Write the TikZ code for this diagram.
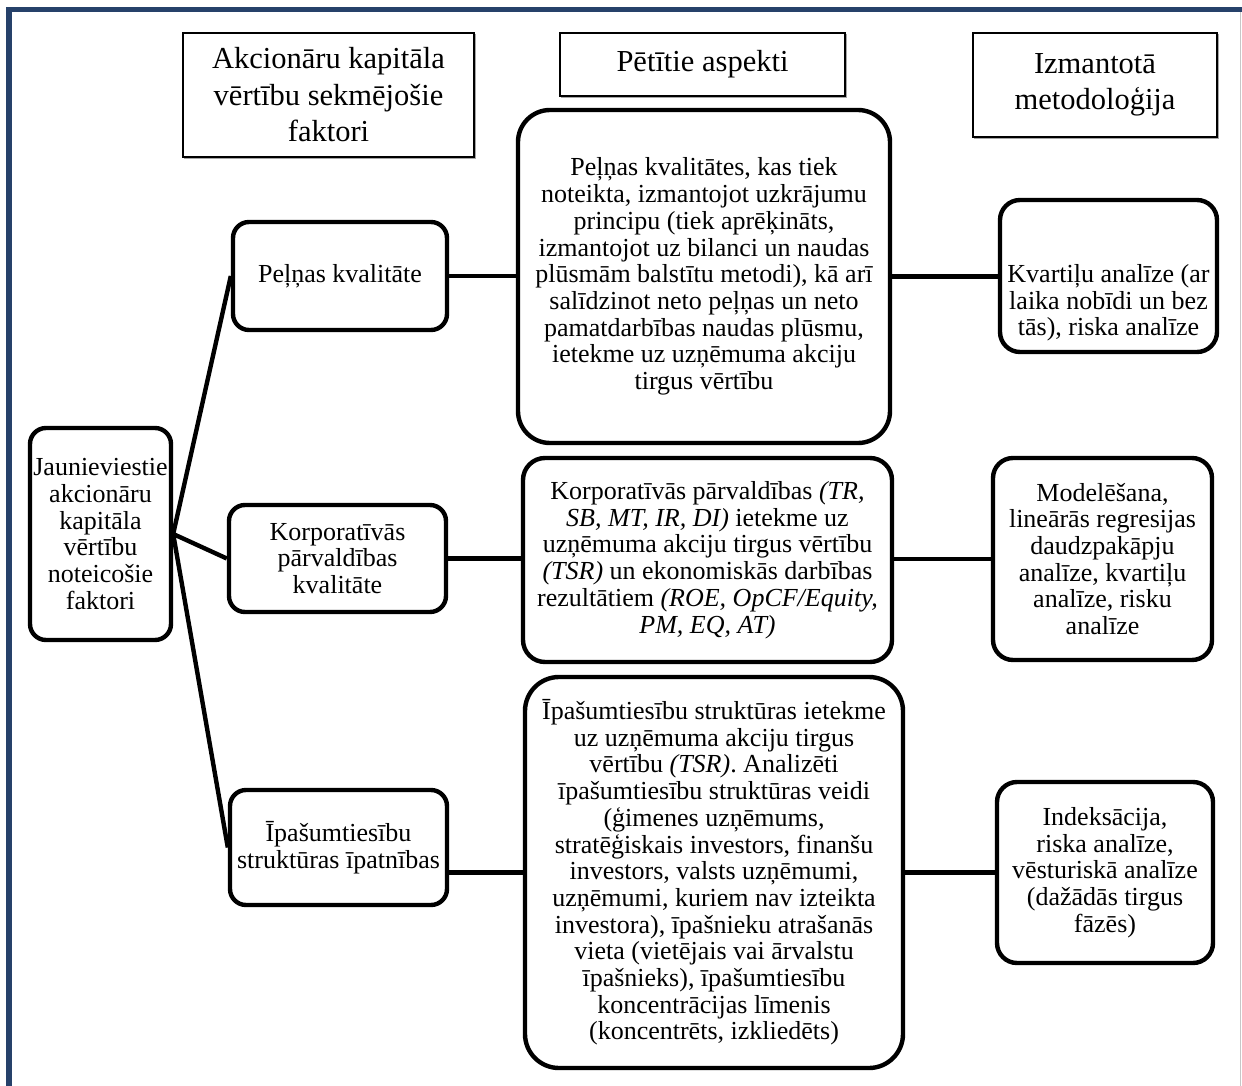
\documentclass[tikz,border=0pt]{standalone}
\usepackage{fontspec}
\setmainfont{Liberation Serif}
\definecolor{framecol}{HTML}{26416A}
\newcommand{\bodysize}{\fontsize{26}{26.7}\selectfont}
\newcommand{\headsize}{\fontsize{30.5}{36.5}\selectfont}
\tikzset{
  headbox/.style={draw=black, line width=1.3pt, fill=white, inner sep=0pt, align=center,
    font=\headsize,
    preaction={draw=black!35, line width=1.3pt, transform canvas={shift={(1.8pt,-1.8pt)}}}},
  rbox/.style={draw=black, line width=4.4pt, fill=white, inner sep=0pt, align=center,
    font=\bodysize, rounded corners=#1},
  rbox/.default=16pt,
  plain/.style={inner sep=0pt, align=center, font=\bodysize},
  conn/.style={draw=black, line width=4.4pt}
}
\begin{document}
\begin{tikzpicture}[x=1pt, y=-1pt]
\useasboundingbox (0,0) rectangle (1242,1086);
\fill[white] (0,0) rectangle (1242,1086);

% page frame
\fill[framecol] (6,7) rectangle (1242,12.5);
\fill[framecol] (6,7) rectangle (11.5,1086);
\draw[black!22, line width=1.2pt] (1240.5,12.5) -- (1240.5,1086);

% column headings
\node[headbox, minimum width=291, minimum height=124] (h1) at (328.5,95)
  {Akcionāru kapitāla\\vērtību sekmējošie\\faktori};
\node[headbox, minimum width=285, minimum height=63] (h2) at (702.5,64.5)
  {Pētītie aspekti};
\node[headbox, minimum width=244, minimum height=104] (h3) at (1095,85)
  {Izmantotā\\metodoloģija};

% root
\node[rbox=16pt, minimum width=141, minimum height=212] (root) at (100.5,534)
  {Jaunieviestie\\akcionāru\\kapitāla\\vērtību\\noteicošie\\faktori};

% factors
\node[rbox=16pt, minimum width=214, minimum height=108] (pel) at (340,276)
  {Peļņas kvalitāte};
\node[rbox=16pt, minimum width=217, minimum height=107] (korp) at (337.5,558.5)
  {Korporatīvās\\pārvaldības\\kvalitāte};
\node[rbox=16pt, minimum width=217, minimum height=115] (ip) at (338.5,847.5)
  {Īpašumtiesību\\struktūras īpatnības};

% studied aspects
\node[rbox=32pt, minimum width=372, minimum height=333] (big1) at (704,276.5)
  {Peļņas kvalitātes, kas tiek\\noteikta, izmantojot uzkrājumu\\principu (tiek aprēķināts,\\izmantojot uz bilanci un naudas\\plūsmām balstītu metodi), kā arī\\salīdzinot neto peļņas un neto\\pamatdarbības naudas plūsmu,\\ietekme uz uzņēmuma akciju\\tirgus vērtību};
\node[rbox=22pt, minimum width=369, minimum height=204] (big2) at (707.5,560)
  {Korporatīvās pārvaldības \textit{(TR,}\\\textit{SB, MT, IR, DI)} ietekme uz\\uzņēmuma akciju tirgus vērtību\\\textit{(TSR)} un ekonomiskās darbības\\rezultātiem \textit{(ROE, OpCF/Equity,}\\\textit{PM, EQ, AT)}};
\node[rbox=34pt, minimum width=378, minimum height=391] (big3) at (714,872.5)
  {Īpašumtiesību struktūras ietekme\\uz uzņēmuma akciju tirgus\\vērtību \textit{(TSR)}. Analizēti\\īpašumtiesību struktūras veidi\\(ģimenes uzņēmums,\\stratēģiskais investors, finanšu\\investors, valsts uzņēmumi,\\uzņēmumi, kuriem nav izteikta\\investora), īpašnieku atrašanās\\vieta (vietējais vai ārvalstu\\īpašnieks), īpašumtiesību\\koncentrācijas līmenis\\(koncentrēts, izkliedēts)};

% methodology
\node[rbox=20pt, minimum width=217, minimum height=152] (kv) at (1108.5,276) {};
\node[plain] (kvtext) at (1108.5,303)
  {Kvartiļu analīze (ar\\laika nobīdi un bez\\tās), riska analīze};
\node[rbox=20pt, minimum width=219, minimum height=202] (mod) at (1102.5,559)
  {Modelēšana,\\lineārās regresijas\\daudzpakāpju\\analīze, kvartiļu\\analīze, risku\\analīze};
\node[rbox=20pt, minimum width=216, minimum height=181] (ind) at (1105,872.5)
  {Indeksācija,\\riska analīze,\\vēsturiskā analīze\\(dažādās tirgus\\fāzēs)};

% connectors
\draw[conn] (root.east) -- (pel.west);
\draw[conn] (root.east) -- (korp.west);
\draw[conn] (root.east) -- (ip.west);
\draw[conn] (pel.east) -- (pel.east -| big1.west);
\draw[conn] (korp.east) -- (korp.east -| big2.west);
\draw[conn] (ip.east |- big3.west) -- (big3.west);
\draw[conn] (big1.east) -- (big1.east -| kv.west);
\draw[conn] (big2.east |- mod.west) -- (mod.west);
\draw[conn] (big3.east) -- (big3.east -| ind.west);
\end{tikzpicture}
\end{document}
